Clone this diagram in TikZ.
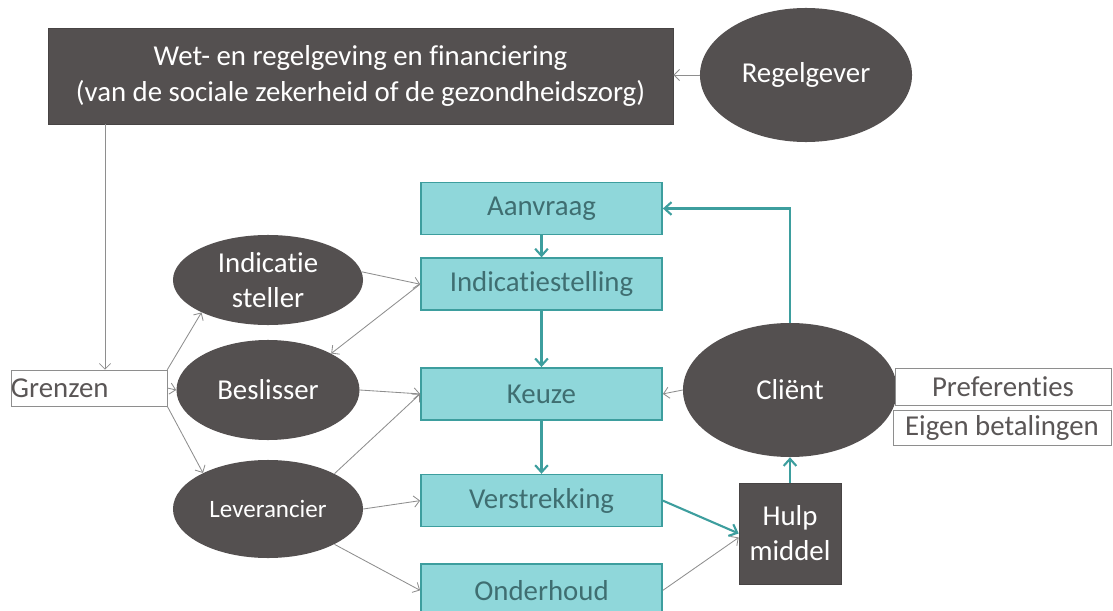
\documentclass[tikz,border=0pt]{standalone}
\usepackage{fontspec}
\setmainfont{Carlito}[Ligatures=NoCommon]
\usetikzlibrary{shapes.geometric, arrows.meta, positioning}

\definecolor{darkfill}{HTML}{545050}
\definecolor{cyanfill}{HTML}{8FD7DA}
\definecolor{cyanline}{HTML}{3D9E9E}
\definecolor{cyantext}{HTML}{3F6E71}
\definecolor{greyline}{HTML}{8E8E8E}
\definecolor{greytext}{HTML}{5A5656}

\begin{document}
\begin{tikzpicture}[
    x=0.025cm, y=-0.025cm,
    font=\fontsize{20.5}{25}\selectfont,
    law/.style={rectangle, draw=darkfill!85!black, fill=darkfill, text=white, align=center, minimum width=15.625cm, minimum height=2.4cm, inner sep=0pt},
    actor/.style={ellipse, fill=darkfill, text=white, align=center, inner sep=0pt},
    device/.style={rectangle, draw=darkfill!85!black, fill=darkfill, text=white, align=center, minimum width=2.55cm, minimum height=2.525cm, inner sep=0pt},
    stepbox/.style={rectangle, draw=cyanline, line width=1.2pt, fill=cyanfill, text=cyantext, minimum width=6.025cm, minimum height=1.3cm, inner sep=0pt},
    tag/.style={rectangle, draw=greyline, fill=white, text=greytext, inner sep=0pt},
    arrow/.style={->, >={Straight Barb[length=4pt, width=8pt]}, greyline, line width=0.6pt},
    flow/.style={->, >={Straight Barb[length=5pt, width=9pt]}, cyanline, line width=1.5pt}
]
\useasboundingbox (0,0) rectangle (1113,611);

% Top row
\node[law] (law) at (360.5,76) {Wet- en regelgeving en financiering\\(van de sociale zekerheid of de gezondheidszorg)};
\node[actor, minimum width=5.3cm, minimum height=3.35cm] (regelgever) at (806,75) {Regelgever};

% Actors on the left
\node[tag, text width=3.9cm, minimum height=0.9cm, align=left] (grenzen) at (89,388) {Grenzen};
\node[actor, minimum width=4.75cm, minimum height=2.25cm] (indsteller) at (268,280) {Indicatie\\steller};
\node[actor, minimum width=4.575cm, minimum height=2.5cm] (beslisser) at (268,390) {Beslisser};
\node[actor, minimum width=4.75cm, minimum height=2.45cm, font=\fontsize{17.8}{21}\selectfont] (leverancier) at (268,509) {Leverancier};

% Process steps
\node[stepbox] (aanvraag) at (541.5,208.5) {Aanvraag};
\node[stepbox, below=0.55cm of aanvraag] (indicatie) {Indicatiestelling};
\node[stepbox, below=1.4cm of indicatie] (keuze) {Keuze};
\node[stepbox, below=1.325cm of keuze] (verstrekking) {Verstrekking};
\node[stepbox, below=0.9cm of verstrekking] (onderhoud) {Onderhoud};

% Client side
\node[actor, minimum width=5.35cm, minimum height=3.35cm] (client) at (790,390) {Cliënt};
\node[device] (hulp) at (790,533.5) {Hulp\\middel};
\node[tag, minimum width=5.4cm, minimum height=0.925cm] (preferenties) at (1003,386.5) {Preferenties};
\node[tag, minimum width=5.45cm, minimum height=0.875cm] (eigen) at (1002,427.5) {Eigen betalingen};

% Grey arrows
\coordinate (drop) at ([xshift=0.4cm]grenzen.north);
\draw[arrow] (regelgever.west) -- (regelgever.west -| law.east);
\draw[arrow] (law.south -| drop) -- (drop);
\draw[arrow] (grenzen.north east) -- (indsteller.206);
\draw[arrow] (grenzen.east) -- (beslisser.west);
\draw[arrow] (grenzen.south east) -- (leverancier.151);
\draw[arrow] (indsteller.5) -- (indicatie.west);
\draw[arrow] (indicatie.west) -- (beslisser.30);
\draw[arrow] (beslisser.east) -- (keuze.west);
\draw[arrow] (leverancier.28) -- (keuze.west);
\draw[arrow] (leverancier.east) -- (verstrekking.west);
\draw[arrow] (leverancier.-28) -- (onderhoud.west);
\draw[arrow] (client.west) -- (keuze.east);
\draw[arrow] (onderhoud.east) -- ([yshift=-0.1cm]hulp.west);

% Teal flow
\draw[flow] (aanvraag) -- (indicatie);
\draw[flow] (indicatie) -- (keuze);
\draw[flow] (keuze) -- (verstrekking);
\draw[flow] (verstrekking.east) -- (hulp.west);
\draw[flow] (hulp) -- (client);
\draw[flow] (client.north) |- (aanvraag.east);

\end{tikzpicture}
\end{document}
